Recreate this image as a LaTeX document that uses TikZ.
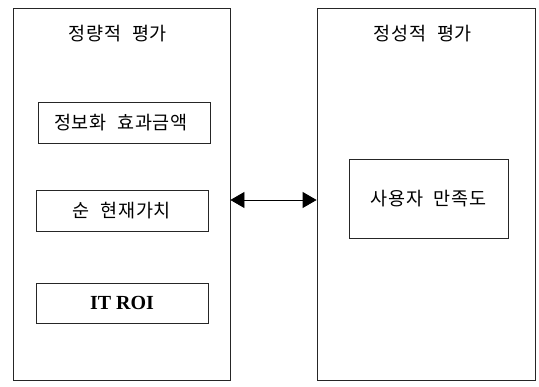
\documentclass[tikz,border=0pt]{standalone}
\usepackage{fontspec}
\newfontfamily\kr[LetterSpace=4,WordSpace=2.2]{Noto Sans CJK KR}
\newfontfamily\lat{Liberation Serif}
\usetikzlibrary{arrows.meta}
\begin{document}
\begin{tikzpicture}[x=1pt,y=-1pt,
  panel/.style={draw=black!85,line width=0.8pt},
  item/.style={draw=black!85,line width=0.8pt},
  lbl/.style={font=\kr\fontsize{18.5}{20}\selectfont,inner sep=0pt},
  link/.style={line width=0.8pt,{Triangle[length=14pt,width=16pt]}-{Triangle[length=14pt,width=16pt]}}]
\useasboundingbox (0,0) rectangle (539,387);
\node[panel,minimum width=217pt,minimum height=372pt,inner sep=0pt] (L) at (121.5,194.5) {};
\node[panel,minimum width=218pt,minimum height=372pt,inner sep=0pt] (R) at (426,194.5) {};
\node[lbl] (Lt) at (118,34) {정량적 평가};
\node[lbl] (Rt) at (423,34) {정성적 평가};
\node[item,minimum width=172pt,minimum height=41pt,inner sep=0pt] (A) at (124,122.5) {};
\node[lbl] at (121,122.5) {정보화 효과금액};
\node[item,minimum width=172pt,minimum height=41pt,inner sep=0pt] (B) at (122,210.5) {};
\node[lbl] at (B) {순 현재가치};
\node[item,minimum width=172pt,minimum height=40pt,inner sep=0pt] (C) at (122,303) {};
\node[font=\lat\bfseries\fontsize{20}{22}\selectfont,inner sep=0pt] at (C) {IT ROI};
\node[item,minimum width=159pt,minimum height=79pt,inner sep=0pt] (D) at (428.5,198.5) {};
\node[lbl] at (D) {사용자 만족도};
\draw[link] (L.east |- 0,200) -- (R.west |- 0,200);
\end{tikzpicture}
\end{document}
